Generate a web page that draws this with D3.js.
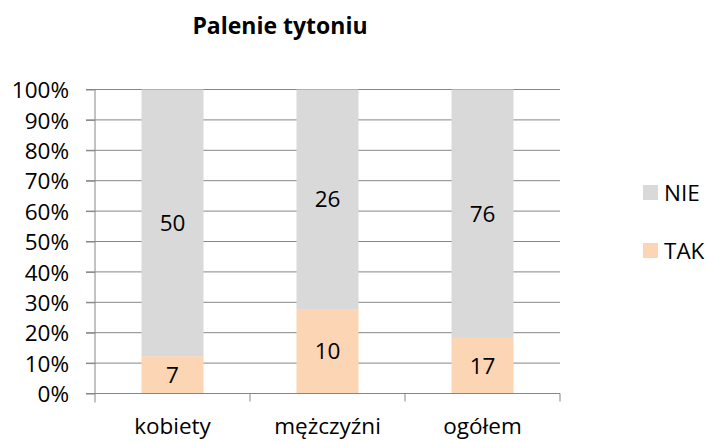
<!DOCTYPE html>
<html>
<head>
<meta charset="utf-8">
<script src="https://cdn.jsdelivr.net/npm/d3@7"></script>
<style>
  body { margin: 0; background: #fff; }
  text { font-family: "Open Sans", "Liberation Sans", sans-serif; fill: #000; }
</style>
</head>
<body>
<svg width="707" height="441"></svg>
<script>
var categories = ['kobiety', 'mężczyźni', 'ogółem']
var takValues = [7, 10, 17]
var nieValues = [50, 26, 76]
var yTicks = [0, 0.1, 0.2, 0.3, 0.4, 0.5, 0.6, 0.7, 0.8, 0.9, 1]
var seriesNames = ['TAK', 'NIE']
var seriesColors = { 'TAK': '#fcd5b4', 'NIE': '#d9d9d9' }

var svg = d3.select("svg"),
    width = +svg.attr("width"),
    height = +svg.attr("height")

var plotLeft = 95, plotRight = 560, plotTop = 89.5, plotBottom = 393.5
var fontSize = 22.5

var x = d3.scaleBand()
    .domain(categories)
    .range([plotLeft, plotRight])
    .paddingInner(0.6)
    .paddingOuter(0.3)

var y = d3.scaleLinear().domain([0, 1]).range([plotBottom, plotTop])

var rows = categories.map(function (c, i) {
  return { cat: c, TAK: takValues[i], NIE: nieValues[i] }
})

var stack = d3.stack().keys(seriesNames).offset(d3.stackOffsetExpand)
var layers = stack(rows)

// gridlines
svg.append("g").selectAll("line")
    .data(yTicks.filter(function (t) { return t > 0 }))
  .enter().append("line")
    .attr("x1", plotLeft - 9).attr("x2", plotRight)
    .attr("y1", function (d) { return y(d) }).attr("y2", function (d) { return y(d) })
    .style("stroke", "#868686").style("stroke-width", 1)

// bars
layers.forEach(function (layer) {
  var g = svg.append("g")
  g.selectAll("rect")
      .data(layer)
    .enter().append("rect")
      .attr("x", function (d) { return x(d.data.cat) })
      .attr("width", x.bandwidth())
      .attr("y", function (d) { return y(d[1]) })
      .attr("height", function (d) { return y(d[0]) - y(d[1]) })
      .style("fill", seriesColors[layer.key])

  g.selectAll("text")
      .data(layer)
    .enter().append("text")
      .attr("x", function (d) { return x(d.data.cat) + x.bandwidth() / 2 })
      .attr("y", function (d) { return y((d[0] + d[1]) / 2) })
      .attr("dy", "0.36em")
      .attr("text-anchor", "middle")
      .style("font-size", fontSize + "px")
      .text(function (d) { return d.data[layer.key] })
})

// y axis
var yAxis = svg.append("g")
    .attr("transform", "translate(" + plotLeft + ",0)")
    .call(d3.axisLeft(y).tickValues(yTicks).tickFormat(d3.format(".0%")).tickSize(9).tickPadding(17))
yAxis.select(".domain").remove()
yAxis.attr("font-family", null).attr("font-size", null)
yAxis.selectAll(".tick line").style("stroke", "#868686")
yAxis.selectAll(".tick text").style("font-size", fontSize + "px").attr("dy", "0.36em")
yAxis.append("line")
    .attr("x1", 0).attr("x2", 0).attr("y1", plotTop).attr("y2", plotBottom + 9)
    .style("stroke", "#868686")

// x axis
svg.append("line")
    .attr("x1", plotLeft - 9).attr("x2", plotRight)
    .attr("y1", plotBottom).attr("y2", plotBottom)
    .style("stroke", "#868686")

var step = x.step()
svg.append("g").selectAll("line")
    .data(d3.range(1, categories.length + 1))
  .enter().append("line")
    .attr("x1", function (i) { return plotLeft + i * step })
    .attr("x2", function (i) { return plotLeft + i * step })
    .attr("y1", plotBottom).attr("y2", plotBottom + 8)
    .style("stroke", "#868686")

svg.append("g").selectAll("text")
    .data(categories)
  .enter().append("text")
    .attr("x", function (d) { return x(d) + x.bandwidth() / 2 })
    .attr("y", 434)
    .attr("text-anchor", "middle")
    .style("font-size", fontSize + "px")
    .text(function (d) { return d })

// title
svg.append("text")
    .attr("x", 280).attr("y", 34)
    .attr("text-anchor", "middle")
    .style("font-size", "23px").style("font-weight", "bold")
    .text("Palenie tytoniu")

// legend
var legendItems = ['NIE', 'TAK']
var legend = svg.append("g").selectAll("g")
    .data(legendItems)
  .enter().append("g")
    .attr("transform", function (d, i) { return "translate(643," + (185 + i * 58) + ")" })
legend.append("rect")
    .attr("width", 15).attr("height", 15)
    .style("fill", function (d) { return seriesColors[d] })
legend.append("text")
    .attr("x", 21).attr("y", 7.5).attr("dy", "0.36em")
    .style("font-size", fontSize + "px")
    .text(function (d) { return d })
</script>
</body>
</html>
